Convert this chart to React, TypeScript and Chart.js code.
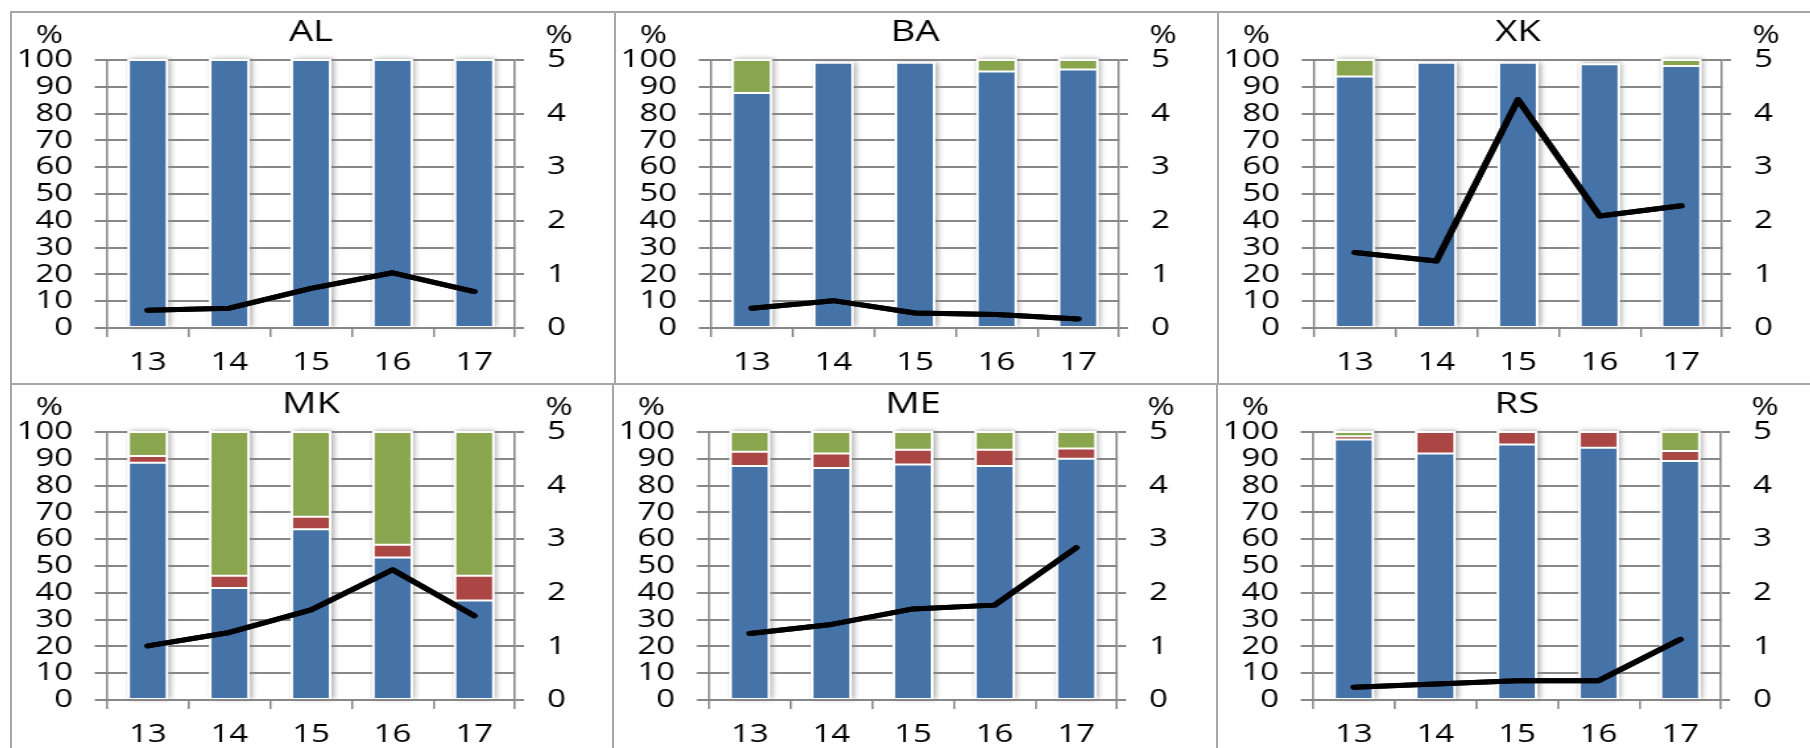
import React, { useEffect, useRef } from 'react';
import { Chart, registerables } from 'chart.js';

Chart.register(...registerables);

// ---------- data ----------
const CATEGORIES = ['13', '14', '15', '16', '17'];
const LEFT_MAX = 100;
const LEFT_STEP = 10;
const RIGHT_MAX = 5;
const RIGHT_STEP = 1;

const AL_BLUE = [100, 100, 100, 100, 100];
const AL_RED = [0, 0, 0, 0, 0];
const AL_GREEN = [0, 0, 0, 0, 0];
const AL_LINE = [0.33, 0.37, 0.74, 1.03, 0.68];

const BA_BLUE = [87.7, 99, 99, 95.7, 96.5];
const BA_RED = [0, 0, 0, 0, 0];
const BA_GREEN = [12.3, 0, 0, 4.3, 3.5];
const BA_LINE = [0.37, 0.51, 0.28, 0.25, 0.17];

const XK_BLUE = [93.8, 99, 99, 98.4, 97.8];
const XK_RED = [0, 0, 0, 0, 0];
const XK_GREEN = [6.2, 0, 0, 0, 2.2];
const XK_LINE = [1.41, 1.25, 4.26, 2.09, 2.28];

const MK_BLUE = [88.5, 41.8, 63.7, 53.2, 37.1];
const MK_RED = [2.5, 4.6, 4.7, 4.7, 9.3];
const MK_GREEN = [9.0, 53.6, 31.6, 42.1, 53.6];
const MK_LINE = [1.01, 1.26, 1.68, 2.43, 1.57];

const ME_BLUE = [87.3, 86.6, 87.9, 87.3, 90.0];
const ME_RED = [5.3, 5.4, 5.5, 6.1, 3.8];
const ME_GREEN = [7.4, 8.0, 6.6, 6.6, 6.2];
const ME_LINE = [1.24, 1.41, 1.7, 1.77, 2.84];

const RS_BLUE = [97.2, 92.0, 95.3, 94.1, 89.2];
const RS_RED = [1.2, 8.0, 4.7, 5.9, 3.7];
const RS_GREEN = [1.6, 0, 0, 0, 7.1];
const RS_LINE = [0.24, 0.3, 0.36, 0.36, 1.13];

const PANELS = [
  { title: 'AL', blue: AL_BLUE, red: AL_RED, green: AL_GREEN, line: AL_LINE },
  { title: 'BA', blue: BA_BLUE, red: BA_RED, green: BA_GREEN, line: BA_LINE },
  { title: 'XK', blue: XK_BLUE, red: XK_RED, green: XK_GREEN, line: XK_LINE },
  { title: 'MK', blue: MK_BLUE, red: MK_RED, green: MK_GREEN, line: MK_LINE },
  { title: 'ME', blue: ME_BLUE, red: ME_RED, green: ME_GREEN, line: ME_LINE },
  { title: 'RS', blue: RS_BLUE, red: RS_RED, green: RS_GREEN, line: RS_LINE },
];

// ---------- style / layout ----------
const BLUE = '#4572A7';
const RED = '#AA4643';
const GREEN = '#89A54E';
const GRID = '#878787';
const FONT = "'Open Sans', 'DejaVu Sans', sans-serif";
const TICK_SIZE = 25;
const TITLE_SIZE = 29;
const BAR_PCT = 0.47;

const S = 1.32; // horizontal stretch of the picture
const CSS_W = 604;
const LW = Math.round(CSS_W / S);
const SX = CSS_W / LW;
const LH = 373;
const PLOT_LEFT = 96 / SX;
const PLOT_RIGHT = 504 / SX;
const PLOT_TOP = 48;
const PLOT_BOTTOM = 316;
const GAP = 1.6;

const ROW_TOPS = [11, 383];
const ROW_LEFTS = [
  [10, 614, 1217],
  [10, 612, 1216],
];

const nz = (arr: number[]) => arr.map((v) => (v ? v : null));

const shadowPlugin = {
  id: 'barShadow',
  beforeDatasetsDraw(chart: any) {
    const ctx = chart.ctx;
    const xS = chart.scales.x;
    const yS = chart.scales.y;
    const base = yS.getPixelForValue(0);
    const step = xS.getPixelForValue(1) - xS.getPixelForValue(0);
    const bw = step * BAR_PCT;
    ctx.save();
    ctx.shadowColor = 'rgba(0,0,0,0.38)';
    ctx.shadowBlur = 5;
    ctx.shadowOffsetX = 1.6;
    ctx.shadowOffsetY = 0;
    ctx.fillStyle = '#ffffff';
    for (let i = 0; i < CATEGORIES.length; i++) {
      let total = 0;
      for (let d = 0; d < 3; d++) total += Number(chart.data.datasets[d].data[i]) || 0;
      if (!total) continue;
      const cx = xS.getPixelForValue(i);
      const top = yS.getPixelForValue(total);
      ctx.fillRect(cx - bw / 2 - 1, top - 1, bw + 2, base - top);
    }
    ctx.restore();
  },
};

// horizontal grid lines drawn in the gaps between bars, then the line series re-drawn on top
const gridTopPlugin = {
  id: 'gridTop',
  afterDraw(chart: any) {
    const ctx = chart.ctx;
    const area = chart.chartArea;
    const xS = chart.scales.x;
    const yS = chart.scales.y;
    const step = xS.getPixelForValue(1) - xS.getPixelForValue(0);
    const bw = step * BAR_PCT;
    const bars: { l: number; r: number; top: number }[] = [];
    for (let i = 0; i < CATEGORIES.length; i++) {
      let total = 0;
      for (let d = 0; d < 3; d++) total += Number(chart.data.datasets[d].data[i]) || 0;
      if (!total) continue;
      const cx = xS.getPixelForValue(i);
      bars.push({ l: cx - bw / 2, r: cx + bw / 2, top: yS.getPixelForValue(total) });
    }
    ctx.save();
    ctx.strokeStyle = GRID;
    ctx.lineWidth = 2;
    ctx.lineCap = 'butt';
    const seg = (x1: number, x2: number, y: number) => {
      if (x2 <= x1) return;
      ctx.beginPath();
      ctx.moveTo(x1, y);
      ctx.lineTo(x2, y);
      ctx.stroke();
    };
    yS.ticks.forEach((t: any) => {
      const py = Math.round(yS.getPixelForValue(t.value));
      const x0start = area.left - 12 / SX;
      if (t.value === 0) {
        seg(x0start, area.right, py);
        return;
      }
      let x0 = x0start;
      bars.forEach((b) => {
        if (py < b.top - 1.5) return;
        seg(x0, b.l - GAP, py);
        x0 = b.r + GAP;
      });
      seg(x0, area.right, py);
    });
    ctx.restore();
    // re-draw the line series so it stays above the grid
    const lineMeta = chart.getDatasetMeta(3);
    if (lineMeta && lineMeta.controller) {
      ctx.save();
      lineMeta.controller.draw();
      ctx.restore();
    }
  },
};

const textPlugin = {
  id: 'panelText',
  afterDraw(chart: any) {
    const ctx = chart.ctx;
    const area = chart.chartArea;
    const title = chart.options.plugins.panelText.title;
    ctx.save();
    ctx.fillStyle = '#000';
    ctx.textAlign = 'center';
    ctx.textBaseline = 'middle';
    ctx.font = `${TITLE_SIZE}px ${FONT}`;
    ctx.fillText(title, (area.left + area.right) / 2, 21);
    ctx.font = `${TICK_SIZE}px ${FONT}`;
    ctx.fillText('%', 38.4 / SX, 24);
    ctx.fillText('%', 548 / SX, 24);
    ctx.restore();
  },
};

function Panel({ p, left, top }: { p: any; left: number; top: number }) {
  const ref = useRef<HTMLCanvasElement>(null);
  useEffect(() => {
    if (!ref.current) return;
    const tickFont = { family: FONT, size: TICK_SIZE };
    const barCommon: any = {
      type: 'bar',
      yAxisID: 'y',
      order: 1,
      barPercentage: BAR_PCT,
      categoryPercentage: 1,
      borderWidth: 1,
      borderColor: '#ffffff',
      borderSkipped: false,
    };
    const chart = new Chart(ref.current, {
      type: 'bar',
      data: {
        labels: CATEGORIES,
        datasets: [
          { ...barCommon, data: nz(p.blue), backgroundColor: BLUE },
          { ...barCommon, data: nz(p.red), backgroundColor: RED },
          { ...barCommon, data: nz(p.green), backgroundColor: GREEN },
          {
            type: 'line',
            data: p.line,
            yAxisID: 'y1',
            order: 0,
            borderColor: '#000000',
            borderWidth: 5,
            pointRadius: 0,
            tension: 0,
            borderCapStyle: 'round',
            borderJoinStyle: 'round',
            fill: false,
          },
        ] as any,
      },
      options: {
        animation: false,
        responsive: false,
        devicePixelRatio: 1,
        events: [],
        layout: { padding: { top: PLOT_TOP, left: 0, right: 0, bottom: 0 } },
        plugins: {
          legend: { display: false },
          tooltip: { enabled: false },
          panelText: { title: p.title },
        } as any,
        scales: {
          x: {
            stacked: true,
            grid: { drawOnChartArea: false, tickLength: 9, color: GRID, lineWidth: 2 / SX },
            border: { display: false },
            ticks: { color: '#000', font: tickFont, padding: 11.2, maxRotation: 0, autoSkip: false },
            afterFit: (s: any) => {
              s.height = LH - PLOT_BOTTOM;
            },
          },
          y: {
            stacked: true,
            min: 0,
            max: LEFT_MAX,
            ticks: { stepSize: LEFT_STEP, autoSkip: false, color: '#000', font: tickFont, padding: 22 / SX },
            grid: { color: GRID, lineWidth: 2, tickLength: 12 / SX },
            border: { display: true, color: GRID, width: 2 / SX },
            afterFit: (s: any) => {
              s.width = PLOT_LEFT;
            },
          },
          y1: {
            position: 'right',
            min: 0,
            max: RIGHT_MAX,
            ticks: { stepSize: RIGHT_STEP, autoSkip: false, color: '#000', font: tickFont, padding: 23 / SX },
            grid: { drawOnChartArea: false, color: GRID, lineWidth: 2, tickLength: 9 / SX },
            border: { display: true, color: GRID, width: 2 / SX },
            afterFit: (s: any) => {
              s.width = LW - PLOT_RIGHT;
            },
          },
        },
      } as any,
      plugins: [shadowPlugin, gridTopPlugin, textPlugin],
    });
    return () => chart.destroy();
  }, [p]);
  return (
    <canvas
      ref={ref}
      width={LW}
      height={LH}
      style={{
        position: 'absolute',
        left: left,
        top: top,
        width: CSS_W + 'px',
        height: LH + 'px',
        display: 'block',
      }}
    />
  );
}

export default function App() {
  const boxes: any[] = [];
  const canvases: any[] = [];
  for (let r = 0; r < 2; r++) {
    for (let c = 0; c < 3; c++) {
      const left = ROW_LEFTS[r][c];
      const next = c < 2 ? ROW_LEFTS[r][c + 1] : 1830;
      const top = ROW_TOPS[r];
      const bottom = r === 0 ? ROW_TOPS[1] + 2 : 780;
      boxes.push(
        <div
          key={'b' + r + c}
          style={{
            position: 'absolute',
            left,
            top,
            width: next - left + 2,
            height: bottom - top,
            border: '2px solid #a6a6a6',
            boxSizing: 'border-box',
          }}
        />
      );
      canvases.push(<Panel key={'p' + r + c} p={PANELS[r * 3 + c]} left={left + 1} top={top + 1} />);
    }
  }
  return (
    <div
      style={{
        position: 'fixed',
        left: 0,
        top: 0,
        width: 1810,
        height: 748,
        overflow: 'hidden',
        background: '#ffffff',
      }}
    >
      {boxes}
      {canvases}
    </div>
  );
}
